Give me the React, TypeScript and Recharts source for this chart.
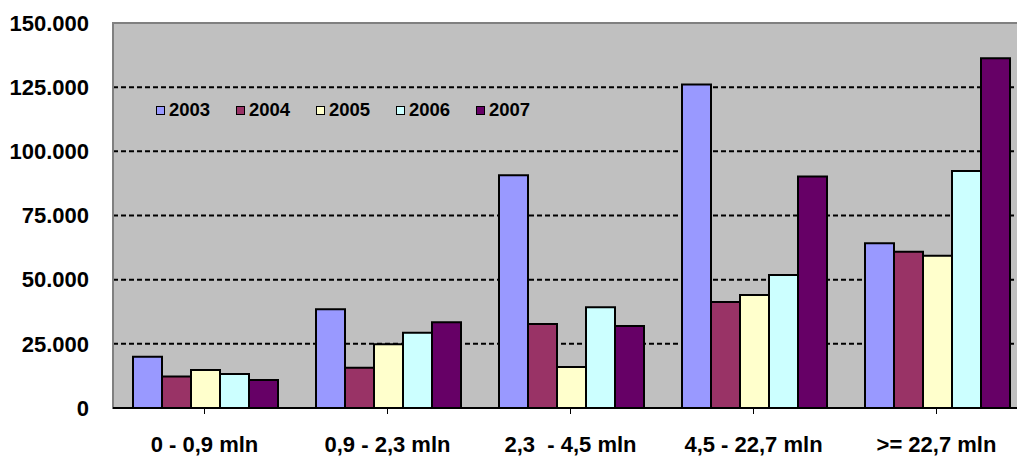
import React from 'react';
import {
  BarChart,
  Bar,
  XAxis,
  YAxis,
  CartesianGrid,
  Legend,
  ReferenceArea,
} from 'recharts';

// Revenue size classes on the category axis
const CATEGORIES = ['0 - 0,9 mln', '0,9 - 2,3 mln', '2,3 \u00a0- 4,5 mln', '4,5 - 22,7 mln', '>= 22,7 mln'];

const YEARS = ['2003', '2004', '2005', '2006', '2007'];

const VALUES_2003 = [20000, 38500, 90700, 126000, 64200];
const VALUES_2004 = [12300, 15700, 32700, 41300, 60900];
const VALUES_2005 = [14800, 24800, 16000, 44000, 59300];
const VALUES_2006 = [13200, 29300, 39300, 51800, 92300];
const VALUES_2007 = [10900, 33400, 31900, 90200, 136300];

const Y_TICKS = [0, 25000, 50000, 75000, 100000, 125000, 150000];

const COLORS: Record<string, string> = {
  '2003': '#9999ff',
  '2004': '#993366',
  '2005': '#ffffcc',
  '2006': '#ccffff',
  '2007': '#660066',
};

const SERIES = [VALUES_2003, VALUES_2004, VALUES_2005, VALUES_2006, VALUES_2007];

const data = CATEGORIES.map((name, i) => {
  const row: Record<string, string | number> = { name };
  YEARS.forEach((year, j) => {
    row[year] = SERIES[j][i];
  });
  return row;
});

const FONT = '"Liberation Sans", Arial, sans-serif';

// 150000 -> "150.000"
const formatThousands = (v: number) => v.toString().replace(/\B(?=(\d{3})+(?!\d))/g, '.');

const renderLegend = () => (
  <div style={{ display: 'flex', fontFamily: FONT, fontWeight: 'bold', fontSize: 18.5, lineHeight: '20px' }}>
    {YEARS.map((year) => (
      <div key={year} style={{ width: 80, display: 'flex', alignItems: 'center' }}>
        <span
          style={{
            display: 'inline-block',
            width: 7,
            height: 7,
            background: COLORS[year],
            border: '1.5px solid #000',
            marginRight: 4,
          }}
        />
        <span style={{ color: '#000' }}>{year}</span>
      </div>
    ))}
  </div>
);

export default function App() {
  return (
    <div style={{ position: 'fixed', top: 0, left: 0, width: 1017, height: 457, overflow: 'hidden', background: '#fff' }}>
      <BarChart
        width={1040}
        height={457}
        data={data}
        margin={{ top: 23, right: 12, bottom: 0, left: 0 }}
        barCategoryGap={20}
        barGap={0}
      >
        <CartesianGrid
          vertical={false}
          fill="#c0c0c0"
          stroke="#000"
          strokeWidth={2}
          strokeDasharray="5 3"
        />
        <XAxis
          dataKey="name"
          height={49}
          tickSize={6}
          tickMargin={22}
          axisLine={{ stroke: '#000', strokeWidth: 2 }}
          tickLine={{ stroke: '#000', strokeWidth: 1 }}
          tick={{ fill: '#000', fontSize: 22, fontWeight: 'bold', fontFamily: FONT }}
          interval={0}
        />
        <YAxis
          width={113}
          domain={[0, 150000]}
          ticks={Y_TICKS}
          tickFormatter={formatThousands}
          axisLine={false}
          tickLine={false}
          tickSize={0}
          tickMargin={24}
          tick={{ fill: '#000', fontSize: 22, fontWeight: 'bold', fontFamily: FONT }}
          interval={0}
        />
        <ReferenceArea y1={0} y2={150000} fill="none" stroke="#808080" strokeWidth={2} />
        <Legend
          layout="horizontal"
          verticalAlign="middle"
          align="center"
          content={renderLegend}
          wrapperStyle={{ top: 100, left: 156, width: 420 }}
        />
        {YEARS.map((year) => (
          <Bar
            key={year}
            dataKey={year}
            fill={COLORS[year]}
            stroke="#000"
            strokeWidth={2}
            isAnimationActive={false}
          />
        ))}
      </BarChart>
    </div>
  );
}
